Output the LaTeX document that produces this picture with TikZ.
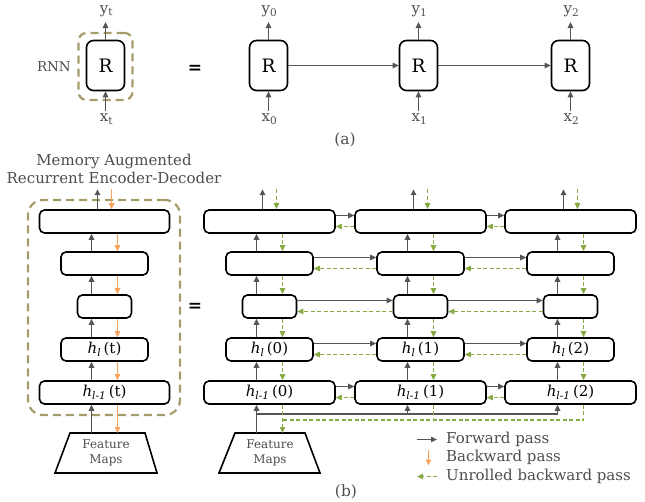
\documentclass[tikz,border=0pt]{standalone}
\usepackage{fontspec}
\setmainfont{DejaVu Serif}
\usetikzlibrary{arrows.meta,calc}

\definecolor{fwgray}{HTML}{555555}
\definecolor{bworange}{HTML}{F7A35C}
\definecolor{ubgreen}{HTML}{86AB44}
\definecolor{khaki}{HTML}{A69C6A}
\definecolor{labelgray}{HTML}{4D4D4D}

\tikzset{
  tip/.style={-{Triangle[length=6pt,width=5.5pt]}},
  rbox/.style={draw, line width=1.6pt, rounded corners=7pt, minimum width=38pt,
    minimum height=50pt, inner sep=0pt, font=\fontsize{18.5}{22}\selectfont},
  blk/.style={draw, line width=1.6pt, rounded corners=5pt, minimum height=23pt,
    inner sep=0pt, font=\fontsize{15}{18}\selectfont},
  fw/.style={draw=fwgray, line width=1.7pt, tip},
  fwline/.style={draw=fwgray, line width=1.7pt},
  bw/.style={draw=bworange, line width=1.7pt, tip},
  ub/.style={draw=ubgreen, line width=1.7pt, dash pattern=on 4pt off 2.5pt, tip},
  ubline/.style={draw=ubgreen, line width=1.7pt, dash pattern=on 4pt off 2.5pt},
  grouping/.style={draw=khaki, line width=2.2pt, dash pattern=on 8pt off 5pt, inner sep=0pt},
  lbl/.style={text=labelgray, font=\fontsize{15}{18}\selectfont, inner sep=0pt},
  fmap/.style={draw, line width=1.6pt},
  fmtext/.style={text=labelgray, align=center, font=\fontsize{12}{15}\selectfont, inner sep=0pt},
  eqsign/.style={font=\fontsize{17}{20}\selectfont\bfseries, inner sep=0pt},
}

\newcommand{\hl}[1]{\textit{h}\textsubscript{\textit{l}}\,(#1)}
\newcommand{\hlm}[1]{\textit{h}\textsubscript{\textit{l-1}}\,(#1)}

\begin{document}
\begin{tikzpicture}[x=1pt,y=-1pt]
\useasboundingbox (0,0) rectangle (645,502);

% ---------- (a) folded RNN and its unrolled form ----------
\node[rbox] (Rt) at (105.5,65.5) {R};
\node[grouping, rounded corners=8pt, minimum width=54pt, minimum height=67pt] (grpA) at (105.5,66.5) {};
\node[lbl, anchor=east, font=\fontsize{13.5}{16}\selectfont] (rnn) at (71,67) {RNN};
\node[lbl, anchor=base] (yt) at (106.5,13.5) {y\textsubscript{t}};
\node[lbl, anchor=base] (xt) at (106.5,122) {x\textsubscript{t}};
\draw[fw, shorten >=5pt] (Rt.north) -- (Rt.north |- yt.south);
\draw[fw, shorten <=3pt] (Rt.south |- xt.north) -- (Rt.south);

\node[eqsign] (eqA) at (195,69) {=};

\foreach \i/\xx in {0/268.5, 1/418.5, 2/570.5}{
  \node[rbox] (R\i) at (\xx,65.5) {R};
  \node[lbl, anchor=base] (y\i) at (\xx+1,13.5) {y\textsubscript{\i}};
  \node[lbl, anchor=base] (x\i) at (\xx+1,122) {x\textsubscript{\i}};
  \draw[fw, shorten >=5pt] (R\i.north) -- (R\i.north |- y\i.south);
  \draw[fw, shorten <=3pt] (R\i.south |- x\i.north) -- (R\i.south);
}
\draw[fw] (R0) -- (R1);
\draw[fw] (R1) -- (R2);

\node[lbl, font=\fontsize{15.5}{18}\selectfont] (capA) at (345,140) {(a)};

% ---------- (b) memory augmented recurrent encoder-decoder ----------
\node[lbl, align=center, font=\fontsize{15}{18}\selectfont] (title) at (114,169)
  {Memory Augmented\\Recurrent Encoder-Decoder};

% folded stack
\node[blk, minimum width=130pt] (L1) at (104.5,221.5) {};
\node[blk, minimum width=87pt]  (L2) at (104.5,263.5) {};
\node[blk, minimum width=54pt]  (L3) at (104.5,306.5) {};
\node[blk, minimum width=87pt]  (L4) at (104.5,349.5) {\hl{t}};
\node[blk, minimum width=130pt] (L5) at (104.5,392.5) {\hlm{t}};
\node[grouping, rounded corners=15pt, minimum width=152pt, minimum height=215pt] (grpB) at (104,307.5) {};

\draw[fmap] (70,433) -- (145,433) -- (157,473) -- (55,473) -- cycle;
\node[fmtext] (fmL) at (106,452.5) {Feature\\Maps};
\coordinate (fmLtop) at (104.5,433);

% forward (gray) and backward (orange) passes of the folded stack
\draw[fw] ([xshift=-7pt]L1.north) -- ++(0,-20);
\draw[bw] ($(L1.north)+(7,-20)$) -- ([xshift=7pt]L1.north);
\foreach \a/\b in {L2/L1, L3/L2, L4/L3, L5/L4}{
  \draw[fw] ([xshift=-13pt]\a.north) -- ([xshift=-13pt]\b.south);
  \draw[bw] ([xshift=13pt]\b.south) -- ([xshift=13pt]\a.north);
}
\draw[fw] ([xshift=-13pt]fmLtop) -- ([xshift=-13pt]L5.south);
\draw[bw] ([xshift=13pt]L5.south) -- ([xshift=13pt]fmLtop);

\node[eqsign] (eqB) at (195,307) {=};

% unrolled stacks
\foreach \k/\cx in {0/269.5, 1/420.5, 2/570.5}{
  \node[blk, minimum width=131pt] (c\k r1) at (\cx,221.5) {};
  \node[blk, minimum width=87pt]  (c\k r2) at (\cx,263.5) {};
  \node[blk, minimum width=54pt]  (c\k r3) at (\cx,306.5) {};
  \node[blk, minimum width=87pt]  (c\k r4) at (\cx,349.5) {\hl{\k}};
  \node[blk, minimum width=131pt] (c\k r5) at (\cx,392.5) {\hlm{\k}};
  \draw[fw] ([xshift=-7pt]c\k r1.north) -- ++(0,-20);
  \draw[ub] ($(c\k r1.north)+(7,-20)$) -- ([xshift=7pt]c\k r1.north);
  \foreach \a/\b in {2/1, 3/2, 4/3, 5/4}{
    \draw[fw] ([xshift=-13pt]c\k r\a.north) -- ([xshift=-13pt]c\k r\b.south);
    \draw[ub] ([xshift=13pt]c\k r\b.south) -- ([xshift=13pt]c\k r\a.north);
  }
}

% connections across time steps
\foreach \r in {1,...,5}{
  \foreach \k/\n in {0/1, 1/2}{
    \draw[fw] ([yshift=6pt]c\k r\r.east) -- ([yshift=6pt]c\n r\r.west);
    \draw[ub] ([yshift=-5pt]c\n r\r.west) -- ([yshift=-5pt]c\k r\r.east);
  }
}

% feature maps feeding every time step
\draw[fmap] (235,433) -- (305,433) -- (320,473) -- (219,473) -- cycle;
\node[fmtext] (fm0) at (270,452.5) {Feature\\Maps};
\coordinate (fm0top) at (269.5,433);

\draw[fw] ([xshift=-13pt]fm0top) -- ([xshift=-13pt]c0r5.south);
\draw[fwline] ($(c0r5.south)+(-13,9.5)$) -- ($(c2r5.south)+(-13,9.5)$);
\draw[fw] ($(c1r5.south)+(-13,9.5)$) -- ([xshift=-13pt]c1r5.south);
\draw[fw] ($(c2r5.south)+(-13,9.5)$) -- ([xshift=-13pt]c2r5.south);

\draw[ubline] ([xshift=13pt]c2r5.south) |- ($(c0r5.south)+(13,15.5)$);
\draw[ubline] ([xshift=13pt]c1r5.south) -- ++(0,15.5);
\draw[ub] ([xshift=13pt]c0r5.south) -- ([xshift=13pt]fm0top);

% legend
\node[lbl, anchor=west] (lg1) at (446,439.5) {Forward pass};
\node[lbl, anchor=west] (lg2) at (446,457.5) {Backward pass};
\node[lbl, anchor=west] (lg3) at (446,476.5) {Unrolled backward pass};
\draw[fw] ([xshift=-29pt]lg1.west) -- ([xshift=-9pt]lg1.west);
\draw[bw] ($(lg2.west)+(-17.5,-8)$) -- ($(lg2.west)+(-17.5,8)$);
\draw[ub] ([xshift=-9pt]lg3.west) -- ([xshift=-29pt]lg3.west);

\node[lbl, font=\fontsize{15.5}{18}\selectfont] (capB) at (346,492) {(b)};
\end{tikzpicture}
\end{document}
